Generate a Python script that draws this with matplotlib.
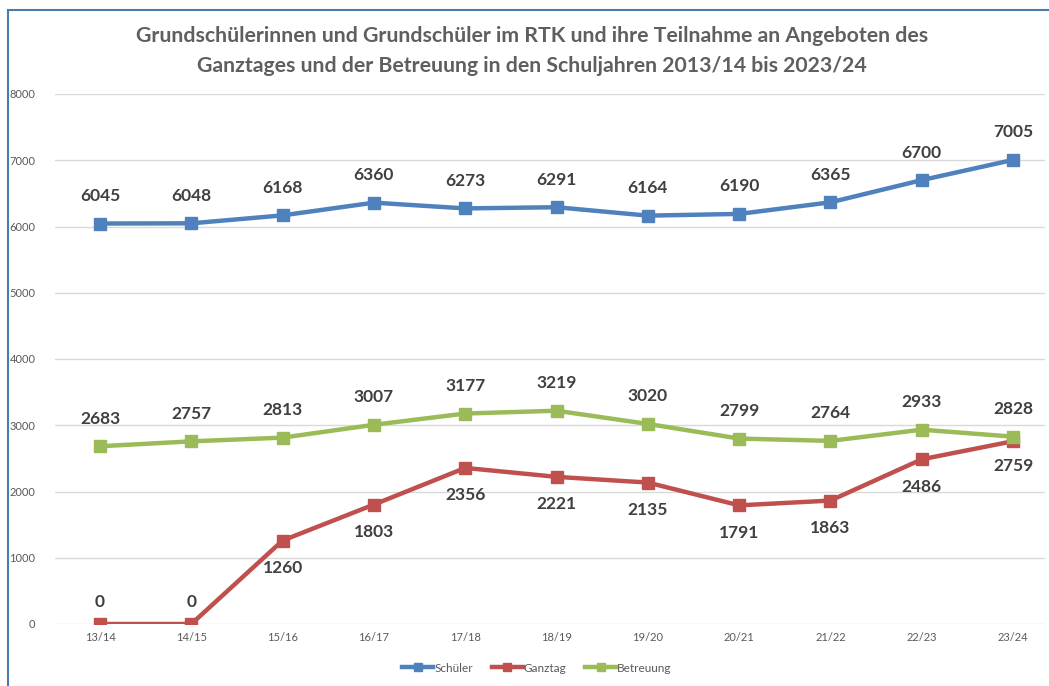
import matplotlib.pyplot as plt
from matplotlib.patches import Rectangle

plt.rcParams['font.family'] = ['Lato', 'DejaVu Sans']

years = ['13/14', '14/15', '15/16', '16/17', '17/18', '18/19', '19/20', '20/21', '21/22', '22/23', '23/24']
schueler = [6045, 6048, 6168, 6360, 6273, 6291, 6164, 6190, 6365, 6700, 7005]
ganztag = [0, 0, 1260, 1803, 2356, 2221, 2135, 1791, 1863, 2486, 2759]
betreuung = [2683, 2757, 2813, 3007, 3177, 3219, 3020, 2799, 2764, 2933, 2828]

W, H = 1049, 686
fig = plt.figure(figsize=(W / 100, H / 100), dpi=100)
ax = fig.add_axes([55 / W, 1 - 624 / H, 990 / W, 530 / H])

# chart frame
fig.patches.append(Rectangle((8 / W, -0.05), 1.1, 1 - 10 / H + 0.05, transform=fig.transFigure,
                             fill=False, ec='#4a7bab', lw=1.5))

x = list(range(len(years)))
ax.plot(x, schueler, color='#4f81bd', lw=3.2, marker='s', ms=8, label='Schüler')
ax.plot(x, ganztag, color='#c0504d', lw=3.2, marker='s', ms=8, label='Ganztag')
ax.plot(x, betreuung, color='#9bbb59', lw=3.2, marker='s', ms=8, label='Betreuung')

lab = dict(ha='center', fontsize=12.5, fontweight='bold', color='#404040')
for i, v in enumerate(schueler):
    ax.annotate(str(v), (i, v), xytext=(0, 14), textcoords='offset points', va='bottom', **lab)
for i, v in enumerate(betreuung):
    ax.annotate(str(v), (i, v), xytext=(0, 14), textcoords='offset points', va='bottom', **lab)
for i, v in enumerate(ganztag):
    if v == 0:
        ax.annotate(str(v), (i, v), xytext=(0, 10), textcoords='offset points', va='bottom', **lab)
    elif i == len(ganztag) - 1:
        ax.annotate(str(v), (i, v), xytext=(0, -12), textcoords='offset points', va='top', **lab)
    else:
        ax.annotate(str(v), (i, v), xytext=(0, -14), textcoords='offset points', va='top', **lab)

ax.set_xlim(-0.493, 10.35)
ax.set_ylim(0, 8000)
ax.set_yticks(range(0, 8001, 1000))
ax.set_xticks(x)
ax.set_xticklabels(years)
ax.grid(axis='y', color='#d9d9d9', lw=1)
ax.set_axisbelow(True)
for s in ax.spines.values():
    s.set_visible(False)
ax.tick_params(axis='both', length=0, labelsize=8, labelcolor='#595959')
ax.tick_params(axis='y', pad=14)
ax.tick_params(axis='x', pad=6)

fig.text(0.507, 1 - 36 / H, 'Grundschülerinnen und Grundschüler im RTK und ihre Teilnahme an Angeboten des',
         ha='center', va='center', fontsize=15.3, fontweight='bold', color='#5f5f5f')
fig.text(0.507, 1 - 66 / H, 'Ganztages und der Betreuung in den Schuljahren 2013/14 bis 2023/24',
         ha='center', va='center', fontsize=15.3, fontweight='bold', color='#5f5f5f')

handles, labels = ax.get_legend_handles_labels()
fig.legend(handles, labels, loc='center', bbox_to_anchor=(0.512, 1 - 668 / H), ncol=3, frameon=False,
           fontsize=8.5, labelcolor='#595959', handlelength=2.6, handletextpad=0.1, columnspacing=1.6,
           markerscale=0.7)

fig.savefig('out.png', dpi=100, facecolor='white')
